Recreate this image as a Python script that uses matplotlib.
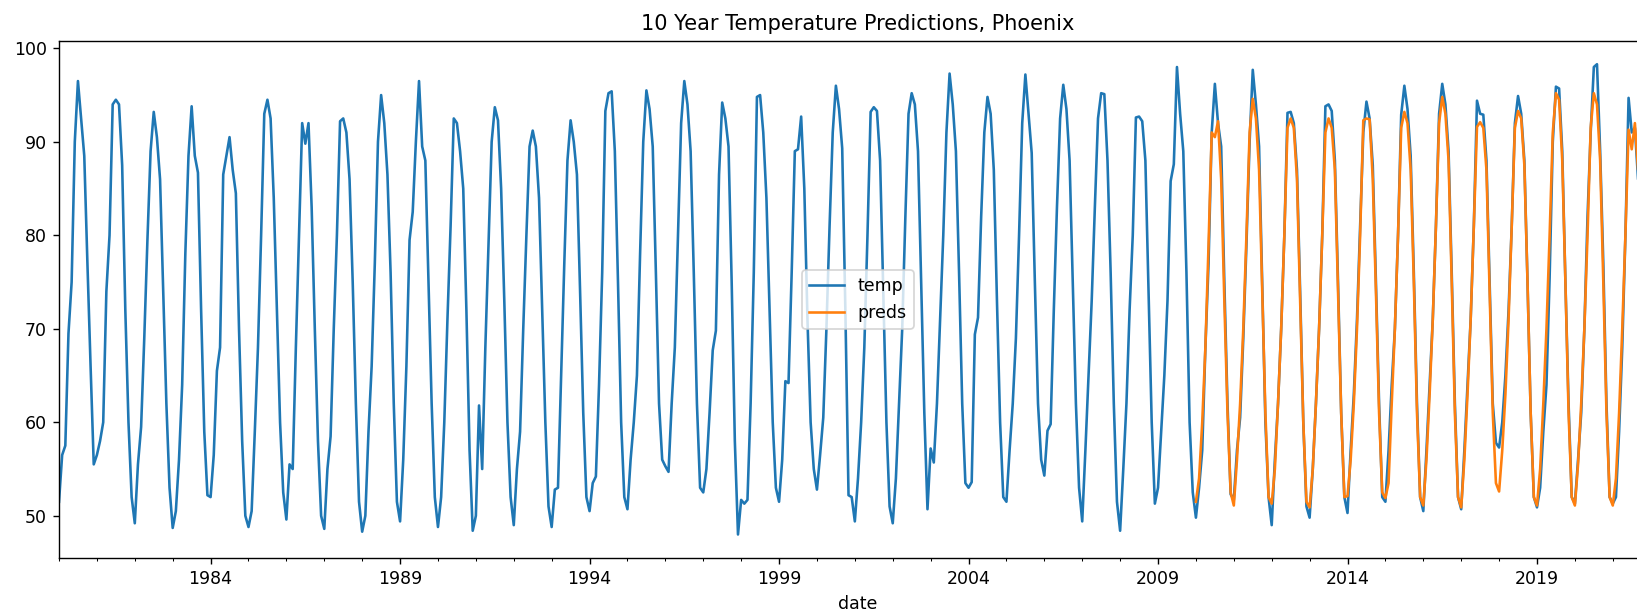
import numpy as np
import pandas as pd
import matplotlib
matplotlib.use("Agg")
import matplotlib.pyplot as plt

# Monthly temperature values (Jan..Dec per row)
temp_1980s = [
    51.5, 56.5, 57.5, 69.5, 75.0, 90.0, 96.5, 92.5, 88.5, 77.0, 66.0, 55.5,  # 1980
    56.5, 58.0, 60.0, 74.0, 80.0, 94.0, 94.5, 94.0, 87.5, 72.0, 60.0, 52.0,  # 1981
    49.2, 55.5, 59.5, 69.0, 79.5, 89.0, 93.2, 90.5, 86.0, 74.0, 62.0, 53.0,  # 1982
    48.7, 50.5, 56.0, 64.0, 78.0, 88.5, 93.8, 88.5, 86.7, 72.0, 59.0, 52.2,  # 1983
    52.0, 56.5, 65.5, 68.0, 86.5, 88.5, 90.5, 87.0, 84.5, 70.0, 58.0, 50.0,  # 1984
    48.8, 50.5, 59.0, 68.0, 80.0, 93.0, 94.5, 92.5, 84.0, 72.0, 60.0, 52.5,  # 1985
    49.6, 55.5, 55.0, 68.0, 80.0, 92.0, 89.8, 92.0, 83.0, 70.0, 58.0, 50.0,  # 1986
    48.6, 55.0, 58.5, 70.0, 80.0, 92.2, 92.5, 91.0, 86.0, 75.0, 62.0, 51.5,  # 1987
    48.3, 50.0, 59.0, 66.0, 77.0, 90.0, 95.0, 92.0, 86.5, 76.0, 62.0, 51.5,  # 1988
    49.4, 56.0, 66.0, 79.5, 82.5, 90.0, 96.5, 89.5, 88.0, 75.0, 62.0, 52.0,  # 1989
]
temp_1990s = [
    48.8, 52.0, 60.0, 71.0, 81.0, 92.5, 92.0, 89.0, 85.0, 72.0, 57.0, 48.4,  # 1990
    50.0, 61.8, 55.0, 68.0, 79.0, 90.0, 93.7, 92.3, 85.0, 73.0, 60.0, 52.0,  # 1991
    49.0, 55.0, 59.0, 70.0, 80.0, 89.5, 91.2, 89.5, 84.0, 72.0, 60.0, 51.0,  # 1992
    48.8, 52.8, 53.0, 65.0, 77.0, 88.0, 92.3, 90.0, 86.5, 74.0, 61.0, 52.0,  # 1993
    50.5, 53.5, 54.2, 64.0, 76.0, 93.3, 95.2, 95.4, 89.0, 75.0, 60.0, 52.0,  # 1994
    50.7, 56.0, 60.0, 65.0, 78.0, 90.0, 95.5, 93.5, 89.5, 76.0, 62.0, 56.0,  # 1995
    55.3, 54.7, 62.0, 68.0, 80.0, 92.0, 96.5, 94.0, 89.0, 76.0, 62.0, 53.0,  # 1996
    52.5, 55.0, 61.0, 67.7, 69.8, 86.5, 94.2, 92.5, 89.5, 75.0, 58.0, 48.0,  # 1997
    51.7, 51.3, 51.7, 62.0, 76.0, 94.8, 95.0, 91.0, 84.0, 72.0, 60.0, 53.0,  # 1998
    51.5, 56.0, 64.4, 64.2, 76.0, 89.0, 89.2, 92.7, 85.0, 71.0, 60.0, 55.0,  # 1999
]
temp_2000s = [
    52.8, 56.5, 60.5, 70.0, 81.0, 91.0, 96.0, 93.5, 89.3, 72.0, 52.2, 52.0,  # 2000
    49.4, 54.0, 60.0, 68.0, 80.0, 93.2, 93.7, 93.3, 88.0, 74.0, 60.0, 51.0,  # 2001
    49.2, 54.0, 62.0, 70.0, 82.0, 93.0, 95.2, 94.0, 89.0, 75.0, 61.0, 50.7,  # 2002
    57.2, 55.7, 62.0, 71.0, 80.0, 91.0, 97.3, 94.0, 89.0, 76.0, 62.0, 53.5,  # 2003
    53.0, 53.6, 69.4, 71.2, 82.0, 91.0, 94.8, 93.0, 87.0, 73.0, 60.0, 52.0,  # 2004
    51.5, 57.0, 62.0, 69.0, 80.0, 92.0, 97.2, 93.0, 88.8, 75.0, 62.0, 56.0,  # 2005
    54.3, 59.1, 59.8, 72.0, 83.0, 92.5, 96.1, 93.5, 88.0, 75.0, 62.0, 53.0,  # 2006
    49.4, 57.0, 65.0, 73.0, 83.0, 92.5, 95.2, 95.1, 88.0, 76.0, 62.0, 51.5,  # 2007
    48.4, 55.0, 62.0, 72.0, 80.0, 92.6, 92.7, 92.2, 88.0, 74.0, 60.0, 51.3,  # 2008
    53.0, 59.0, 65.0, 73.0, 85.8, 87.6, 98.0, 93.0, 89.0, 76.0, 60.0, 52.5,  # 2009
]
temp_2010s = [
    49.8, 53.0, 57.0, 68.0, 77.0, 91.0, 96.2, 92.0, 89.5, 75.0, 62.0, 52.3,  # 2010
    51.7, 57.0, 60.5, 69.0, 79.0, 90.0, 97.7, 94.0, 89.5, 75.0, 60.0, 52.0,  # 2011
    49.0, 56.0, 62.0, 70.0, 80.0, 93.1, 93.2, 92.0, 87.0, 74.0, 60.0, 51.0,  # 2012
    49.8, 55.0, 62.0, 70.0, 80.0, 93.8, 94.0, 93.3, 88.0, 75.0, 61.0, 52.0,  # 2013
    50.3, 57.0, 63.0, 71.0, 81.0, 91.0, 94.3, 92.5, 87.5, 75.0, 62.0, 52.0,  # 2014
    51.5, 57.0, 64.0, 70.0, 80.0, 92.9, 96.0, 93.5, 88.5, 76.0, 62.0, 52.0,  # 2015
    50.5, 57.0, 64.0, 71.0, 81.0, 93.0, 96.2, 94.0, 89.0, 76.0, 62.0, 52.0,  # 2016
    50.7, 57.0, 64.0, 71.0, 81.0, 94.4, 93.0, 92.9, 88.0, 75.0, 62.0, 57.8,  # 2017
    57.3, 60.0, 65.0, 72.0, 81.0, 92.0, 94.9, 93.0, 88.0, 75.0, 61.0, 52.0,  # 2018
    50.9, 53.0, 59.0, 64.0, 75.5, 90.0, 95.9, 95.7, 89.0, 75.0, 62.0, 52.0,  # 2019
]
temp_2020s = [
    51.3, 56.0, 61.0, 70.0, 82.0, 91.0, 98.0, 98.3, 89.0, 77.0, 62.0, 52.0,  # 2020
    51.3, 52.0, 59.0, 68.0, 80.0, 94.7, 91.0, 91.5, 86.0, 75.0, 60.0, 54.0,  # 2021
    52.0, 56.0, 62.0,                                                        # 2022
]

# Model predictions, starting January 2010
preds_2010s = [
    51.5, 54.0, 60.0, 68.0, 79.0, 91.0, 90.5, 92.2, 86.0, 73.0, 61.0, 52.5,  # 2010
    51.1, 56.0, 62.0, 70.0, 80.0, 91.0, 94.6, 92.5, 87.0, 74.0, 61.0, 52.0,  # 2011
    51.3, 55.0, 62.0, 70.0, 80.0, 91.5, 92.5, 91.5, 86.0, 73.0, 60.0, 51.5,  # 2012
    50.9, 55.0, 62.0, 70.0, 80.0, 91.0, 92.5, 91.5, 87.0, 74.0, 61.0, 52.0,  # 2013
    52.1, 56.0, 62.0, 70.0, 80.0, 92.3, 92.5, 92.4, 86.0, 74.0, 61.0, 52.5,  # 2014
    51.9, 53.5, 62.0, 70.0, 80.0, 91.5, 93.2, 92.0, 87.0, 75.0, 61.0, 52.0,  # 2015
    51.1, 56.0, 63.0, 71.0, 81.0, 92.0, 94.8, 93.0, 88.0, 75.0, 61.0, 52.0,  # 2016
    50.9, 56.0, 63.0, 71.0, 81.0, 91.6, 92.1, 91.5, 87.0, 74.0, 61.0, 53.5,  # 2017
    52.6, 57.0, 63.0, 71.0, 81.0, 91.5, 93.3, 92.5, 87.5, 75.0, 61.0, 52.0,  # 2018
    51.1, 55.0, 62.0, 70.0, 80.0, 91.0, 95.2, 94.5, 88.0, 75.0, 61.0, 52.0,  # 2019
]
preds_2020s = [
    51.1, 55.5, 62.0, 70.0, 80.0, 91.5, 95.2, 94.0, 88.0, 75.0, 61.0, 52.0,  # 2020
    51.1, 54.0, 61.0, 70.0, 80.0, 91.3, 89.2, 92.0, 87.0, 75.0, 61.0, 52.0,  # 2021
    51.0, 55.0, 61.0,                                                        # 2022
]

temp = temp_1980s + temp_1990s + temp_2000s + temp_2010s + temp_2020s
preds_known = preds_2010s + preds_2020s
preds = [np.nan] * (len(temp) - len(preds_known)) + preds_known

dates = pd.date_range("1980-01-01", periods=len(temp), freq="MS", name="date")
df = pd.DataFrame({"temp": temp, "preds": preds}, index=dates)

DPI = 125
W, H = 1637, 616
fig = plt.figure(figsize=(W / DPI, H / DPI), dpi=DPI)
left_px, right_px = 59, 1657
top_px, bottom_px = 40.7, 558
ax = fig.add_axes([left_px / W, (H - bottom_px) / H,
                   (right_px - left_px) / W, (bottom_px - top_px) / H])
df.plot(ax=ax)
ax.set_title("10 Year Temperature Predictions, Phoenix")
ax.legend(loc="center")
fig.savefig("out.png", dpi=DPI)
